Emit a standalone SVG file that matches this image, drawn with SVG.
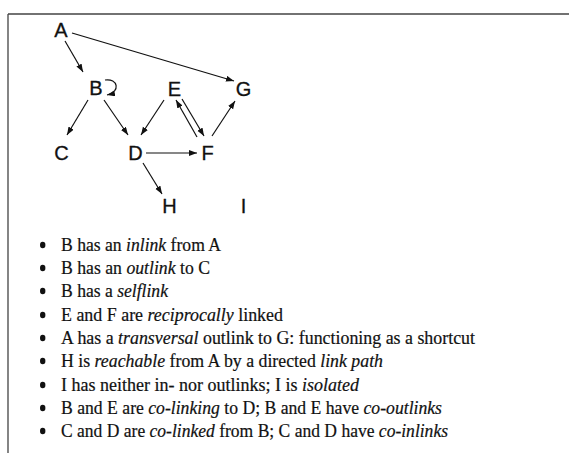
<svg xmlns="http://www.w3.org/2000/svg" width="569" height="453" viewBox="0 0 569 453">
<style>
.frame{stroke:#444;stroke-width:1.3;fill:none}
.node text{font-family:"Liberation Sans",Arial,sans-serif;font-size:20px;fill:#111;text-anchor:middle;stroke:#111;stroke-width:0.3}
.edge{stroke:#111;stroke-width:1.2;fill:none;marker-end:url(#ah)}
.item{font-family:"Liberation Serif","Times New Roman",serif;font-size:18px;fill:#111;stroke:#111;stroke-width:0.2}
.item tspan.i{font-style:italic}
.bul{fill:#111}
</style>
<defs>
<marker id="ah" markerUnits="userSpaceOnUse" markerWidth="9" markerHeight="7" refX="8" refY="3" orient="auto">
<path d="M0,0 L8,3 L0,6 z" fill="#111"/>
</marker>
</defs>
<rect width="569" height="453" fill="#fff"/>
<path class="frame" d="M8,14 H569 M8,14 V453"/>
<g id="nodes">
<g id="A" class="node"><text x="61" y="37">A</text></g>
<g id="B" class="node"><text x="96" y="95">B</text></g>
<g id="E" class="node"><text x="174.5" y="95.5">E</text></g>
<g id="G" class="node"><text x="243.5" y="95.5">G</text></g>
<g id="C" class="node"><text x="61.5" y="160">C</text></g>
<g id="D" class="node"><text x="135.5" y="160">D</text></g>
<g id="F" class="node"><text x="207.5" y="160">F</text></g>
<g id="H" class="node"><text x="169.5" y="213">H</text></g>
<g id="I" class="node"><text x="243.5" y="213">I</text></g>
</g>
<g id="connectors">
<line class="edge" x1="65" y1="41" x2="83" y2="72"/>
<line class="edge" x1="72" y1="33" x2="234" y2="81"/>
<line class="edge" x1="88" y1="100" x2="67" y2="135"/>
<line class="edge" x1="104" y1="100" x2="128" y2="135"/>
<line class="edge" x1="164" y1="100" x2="141" y2="135"/>
<line class="edge" x1="182" y1="99" x2="204" y2="136"/>
<line class="edge" x1="197" y1="137" x2="176" y2="100"/>
<line class="edge" x1="212" y1="136" x2="235" y2="101"/>
<line class="edge" x1="146" y1="153" x2="197" y2="153"/>
<line class="edge" x1="143" y1="163" x2="162" y2="194"/>
<path class="edge" d="M105,80 C118,78 121,92 107,95"/>
</g>
<g id="list">
<ellipse class="bul" cx="42.7" cy="245" rx="2.7" ry="3.2"/>
<ellipse class="bul" cx="42.7" cy="268" rx="2.7" ry="3.2"/>
<ellipse class="bul" cx="42.7" cy="291" rx="2.7" ry="3.2"/>
<ellipse class="bul" cx="42.7" cy="315" rx="2.7" ry="3.2"/>
<ellipse class="bul" cx="42.7" cy="338" rx="2.7" ry="3.2"/>
<ellipse class="bul" cx="42.7" cy="361" rx="2.7" ry="3.2"/>
<ellipse class="bul" cx="42.7" cy="385" rx="2.7" ry="3.2"/>
<ellipse class="bul" cx="42.7" cy="408" rx="2.7" ry="3.2"/>
<ellipse class="bul" cx="42.7" cy="431" rx="2.7" ry="3.2"/>
<text class="item" x="61" y="250.5" textLength="160" lengthAdjust="spacingAndGlyphs">B has an <tspan class="i">inlink</tspan> from A</text>
<text class="item" x="61" y="273.5" textLength="149" lengthAdjust="spacingAndGlyphs">B has an <tspan class="i">outlink</tspan> to C</text>
<text class="item" x="61" y="296.5" textLength="107" lengthAdjust="spacingAndGlyphs">B has a <tspan class="i">selflink</tspan></text>
<text class="item" x="61" y="320.5" textLength="222" lengthAdjust="spacingAndGlyphs">E and F are <tspan class="i">reciprocally</tspan> linked</text>
<text class="item" x="61" y="343.5" textLength="414" lengthAdjust="spacingAndGlyphs">A has a <tspan class="i">transversal</tspan> outlink to G: functioning as a shortcut</text>
<text class="item" x="61" y="366.5" textLength="322" lengthAdjust="spacingAndGlyphs">H is <tspan class="i">reachable</tspan> from A by a directed <tspan class="i">link path</tspan></text>
<text class="item" x="61" y="390.5" textLength="298" lengthAdjust="spacingAndGlyphs">I has neither in- nor outlinks; I is <tspan class="i">isolated</tspan></text>
<text class="item" x="61" y="413.5" textLength="381" lengthAdjust="spacingAndGlyphs">B and E are <tspan class="i">co-linking</tspan> to D; B and E have <tspan class="i">co-outlinks</tspan></text>
<text class="item" x="61" y="436.5" textLength="387" lengthAdjust="spacingAndGlyphs">C and D are <tspan class="i">co-linked</tspan> from B; C and D have <tspan class="i">co-inlinks</tspan></text>
</g>
</svg>
